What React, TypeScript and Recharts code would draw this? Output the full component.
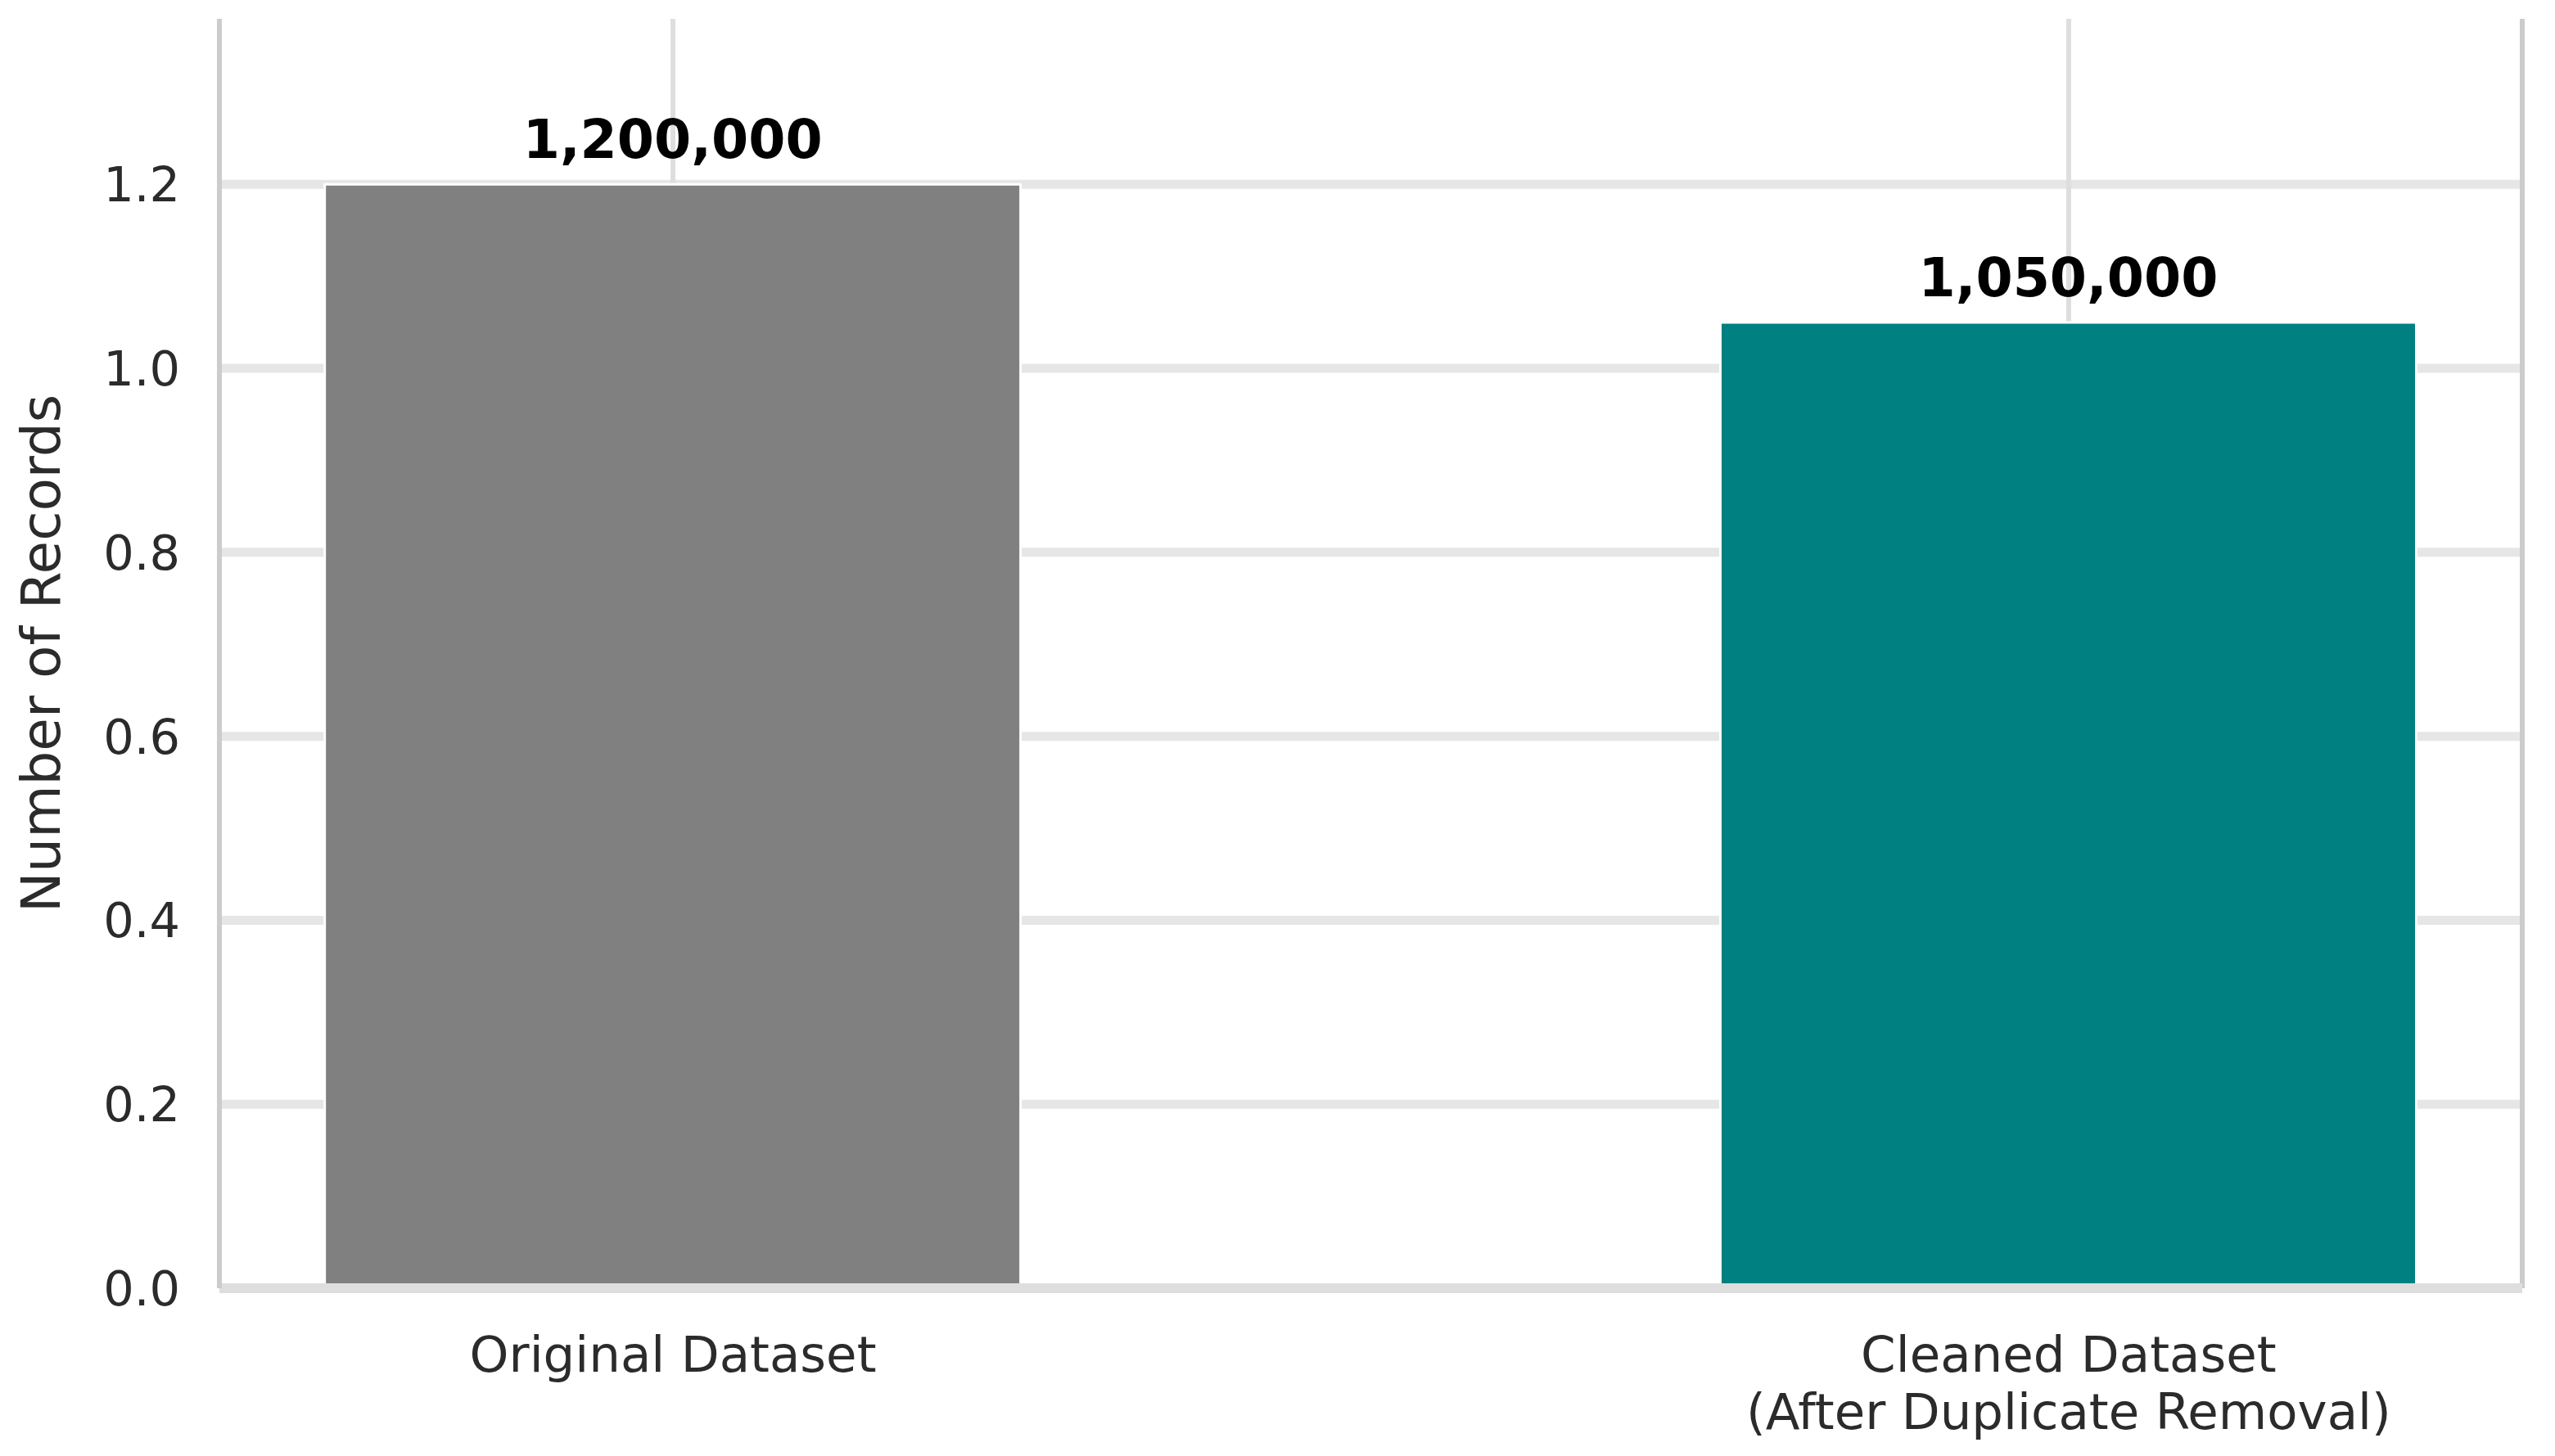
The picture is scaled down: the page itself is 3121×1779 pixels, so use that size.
import { BarChart, Bar, XAxis, YAxis, CartesianGrid, Cell, LabelList, ReferenceLine } from 'recharts';

const categories = ['Original Dataset', 'Cleaned Dataset\n(After Duplicate Removal)'];
const records = [1200000, 1050000];
const barColors = ['#808080', '#008080'];
const yTicks = [0, 200000, 400000, 600000, 800000, 1000000, 1200000];
const yMax = 1380000;

const data = categories.map((name, i) => ({ idx: i, name, records: records[i] }));

const FONT = '"DejaVu Sans", sans-serif';

function CategoryTick(props: any) {
  const { x, y, payload } = props;
  const label = categories[payload.value] ?? '';
  const lines = label.split('\n');
  return (
    <text x={x} y={y} textAnchor="middle" fill="#2b2b2b" fontSize={61} fontFamily={FONT}>
      {lines.map((line, i) => (
        <tspan key={i} x={x} dy={i === 0 ? '0.72em' : '1.15em'}>
          {line}
        </tspan>
      ))}
    </text>
  );
}

// grid rows only at the labelled ticks (no line along the top edge)
const gridRows = ({ offset }: any) =>
  yTicks.map((t) => offset.top + offset.height * (1 - t / yMax));

export default function App() {
  return (
    <div style={{ width: 3105, height: 1760, fontFamily: FONT }}>
      <BarChart
        width={3105}
        height={1760}
        data={data}
        margin={{ top: 15, right: 32, left: 0, bottom: 34 }}
      >
        <CartesianGrid
          vertical={false}
          stroke="#e6e6e6"
          strokeWidth={11}
          horizontalCoordinatesGenerator={gridRows}
        />
        <CartesianGrid horizontal={false} stroke="#dedede" strokeWidth={6} />
        <XAxis
          type="number"
          dataKey="idx"
          domain={[-0.325, 1.325]}
          ticks={[0, 1]}
          allowDataOverflow
          height={160}
          tickSize={0}
          tickMargin={58}
          tick={<CategoryTick />}
          axisLine={{ stroke: '#dedede', strokeWidth: 12 }}
        />
        <YAxis
          type="number"
          domain={[0, yMax]}
          ticks={yTicks}
          allowDataOverflow
          width={260}
          tickSize={0}
          tickMargin={48}
          tickFormatter={(v: number) => (v / 1e6).toFixed(1)}
          tick={{ fill: '#2b2b2b', fontSize: 59, fontFamily: FONT }}
          axisLine={{ stroke: '#cccccc', strokeWidth: 6 }}
          label={{
            value: 'Number of Records',
            angle: -90,
            position: 'insideLeft',
            offset: 42,
            style: { textAnchor: 'middle', fill: '#2b2b2b', fontSize: 66, fontFamily: FONT },
          }}
        />
        <ReferenceLine x={1.325} stroke="#cccccc" strokeWidth={6} />
        <Bar dataKey="records" barSize={850} isAnimationActive={false} stroke="#ffffff" strokeWidth={3}>
          {data.map((d, i) => (
            <Cell key={d.name} fill={barColors[i]} />
          ))}
          <LabelList
            dataKey="records"
            position="top"
            offset={32}
            formatter={(v: any) => Number(v).toLocaleString('en-US')}
            style={{ fill: '#000000', fontSize: 65, fontWeight: 'bold', fontFamily: FONT }}
          />
        </Bar>
      </BarChart>
    </div>
  );
}
